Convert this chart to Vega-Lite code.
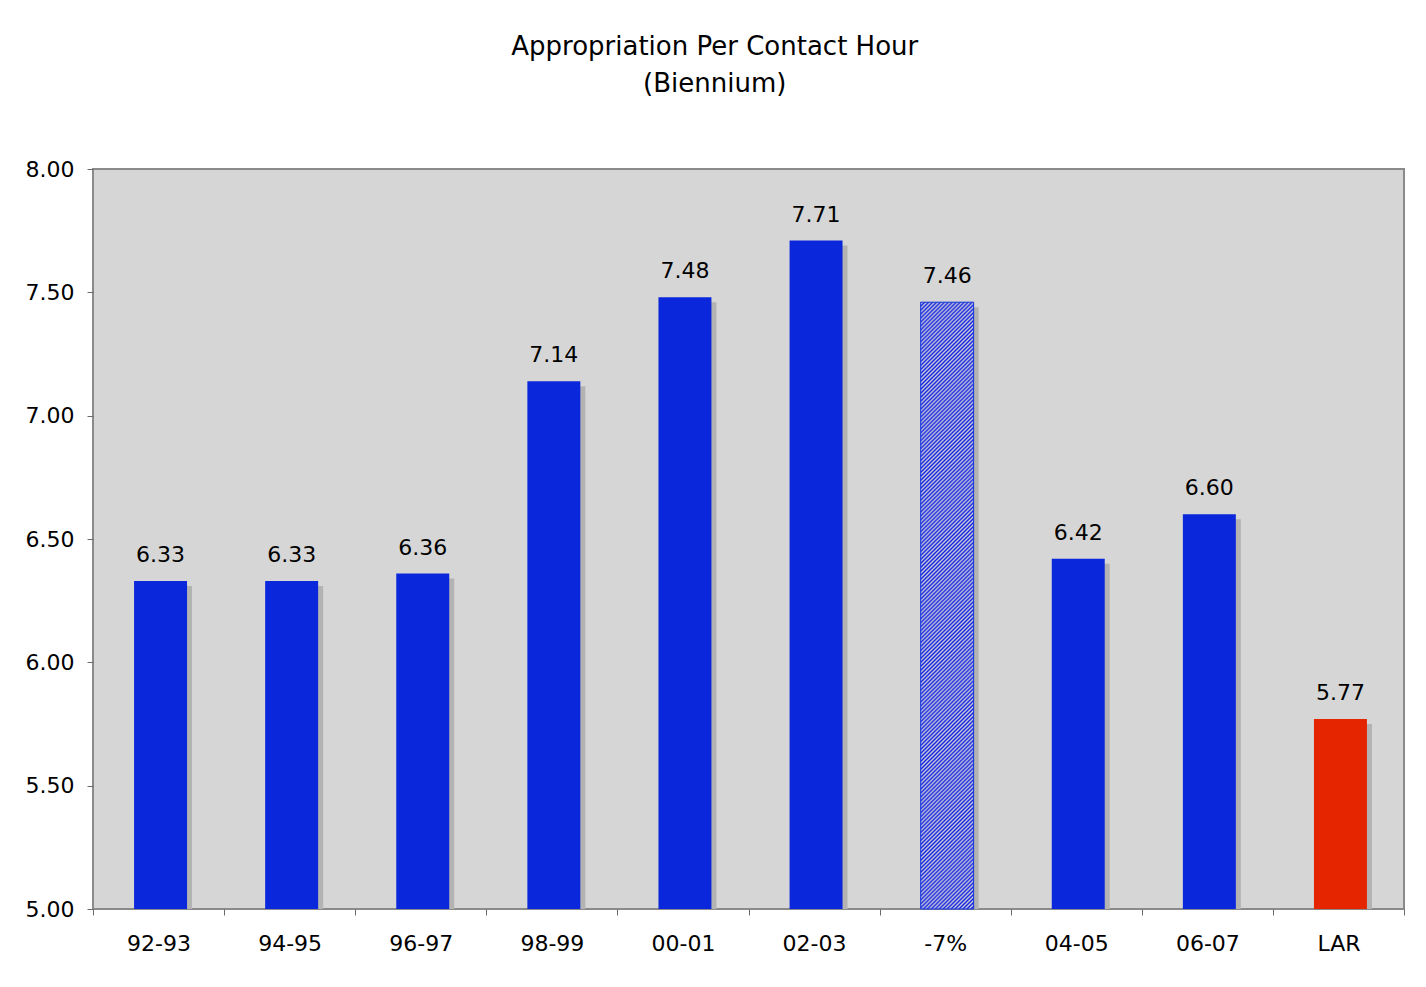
{
  "$schema": "https://vega.github.io/schema/vega-lite/v6.json",
  "width": 1311,
  "height": 740,
  "autosize": {"type": "none"},
  "padding": {"left": 93, "top": 169, "right": 22, "bottom": 78},
  "background": "white",
  "title": {
    "text": ["Appropriation Per Contact Hour", "(Biennium)"],
    "font": "DejaVu Sans",
    "fontSize": 26,
    "fontWeight": "normal",
    "lineHeight": 37,
    "color": "black",
    "anchor": "middle",
    "frame": "bounds",
    "offset": 61
  },
  "data": {
    "values": [
      {"period": "92-93", "value": 6.33, "kind": "actual"},
      {"period": "94-95", "value": 6.33, "kind": "actual"},
      {"period": "96-97", "value": 6.36, "kind": "actual"},
      {"period": "98-99", "value": 7.14, "kind": "actual"},
      {"period": "00-01", "value": 7.48, "kind": "actual"},
      {"period": "02-03", "value": 7.71, "kind": "actual"},
      {"period": "-7%", "value": 7.46, "kind": "hatch"},
      {"period": "04-05", "value": 6.42, "kind": "actual"},
      {"period": "06-07", "value": 6.60, "kind": "actual"},
      {"period": "LAR", "value": 5.77, "kind": "LAR"}
    ]
  },
  "encoding": {
    "x": {
      "field": "period",
      "type": "nominal",
      "sort": null,
      "scale": {"paddingInner": 0, "paddingOuter": 0},
      "axis": {
        "title": null,
        "labelAngle": 0,
        "tickBand": "extent",
        "tickSize": 6,
        "tickColor": "#6a6a6a",
        "domain": false,
        "grid": false,
        "labelFont": "DejaVu Sans",
        "labelFontSize": 22,
        "labelColor": "black",
        "labelPadding": 18
      }
    },
    "y": {
      "field": "value",
      "type": "quantitative",
      "scale": {"domain": [5, 8], "nice": false, "zero": false},
      "axis": {
        "title": null,
        "values": [5, 5.5, 6, 6.5, 7, 7.5, 8],
        "format": ".2f",
        "tickSize": 6,
        "tickColor": "#6a6a6a",
        "domain": false,
        "grid": false,
        "labelFont": "DejaVu Sans",
        "labelFontSize": 22,
        "labelColor": "black",
        "labelPadding": 13
      }
    }
  },
  "layer": [
    {
      "mark": {"type": "bar", "color": "#b3b3b3", "width": {"band": 0.404}, "xOffset": 7, "yOffset": 5, "clip": true},
      "encoding": {"y2": {"datum": 5}}
    },
    {
      "transform": [{"filter": "datum.kind != 'hatch'"}],
      "mark": {"type": "bar", "width": {"band": 0.404}, "xOffset": 2, "opacity": 1},
      "encoding": {
        "y2": {"datum": 5},
        "color": {"field": "kind", "type": "nominal", "scale": {"domain": ["actual", "LAR"], "range": ["#0a27db", "#e52400"]}, "legend": null}
      }
    },
    {
      "transform": [{"filter": "datum.kind == 'hatch'"}],
      "mark": {
        "type": "bar",
        "width": {"band": 0.404},
        "xOffset": 2,
        "stroke": "#13d",
        "strokeWidth": 1,
        "fill": {
          "gradient": "linear",
          "x1": 0, "y1": 0, "x2": 0.0942, "y2": 1.079,
          "stops": [
{"offset":0,"color":"#12d"},{"offset":0.003,"color":"#ccd"},{"offset":0.006,"color":"#12d"},{"offset":0.009,"color":"#ccd"},{"offset":0.012,"color":"#12d"},{"offset":0.015,"color":"#ccd"},{"offset":0.018,"color":"#12d"},{"offset":0.021,"color":"#ccd"},{"offset":0.024,"color":"#12d"},{"offset":0.027,"color":"#ccd"},
{"offset":0.03,"color":"#12d"},{"offset":0.033,"color":"#ccd"},{"offset":0.036,"color":"#12d"},{"offset":0.039,"color":"#ccd"},{"offset":0.042,"color":"#12d"},{"offset":0.045,"color":"#ccd"},{"offset":0.048,"color":"#12d"},{"offset":0.051,"color":"#ccd"},{"offset":0.054,"color":"#12d"},{"offset":0.057,"color":"#ccd"},
{"offset":0.06,"color":"#12d"},{"offset":0.063,"color":"#ccd"},{"offset":0.066,"color":"#12d"},{"offset":0.069,"color":"#ccd"},{"offset":0.072,"color":"#12d"},{"offset":0.075,"color":"#ccd"},{"offset":0.078,"color":"#12d"},{"offset":0.081,"color":"#ccd"},{"offset":0.084,"color":"#12d"},{"offset":0.087,"color":"#ccd"},
{"offset":0.09,"color":"#12d"},{"offset":0.093,"color":"#ccd"},{"offset":0.096,"color":"#12d"},{"offset":0.099,"color":"#ccd"},{"offset":0.102,"color":"#12d"},{"offset":0.105,"color":"#ccd"},{"offset":0.108,"color":"#12d"},{"offset":0.111,"color":"#ccd"},{"offset":0.114,"color":"#12d"},{"offset":0.117,"color":"#ccd"},
{"offset":0.12,"color":"#12d"},{"offset":0.123,"color":"#ccd"},{"offset":0.126,"color":"#12d"},{"offset":0.129,"color":"#ccd"},{"offset":0.132,"color":"#12d"},{"offset":0.135,"color":"#ccd"},{"offset":0.138,"color":"#12d"},{"offset":0.141,"color":"#ccd"},{"offset":0.144,"color":"#12d"},{"offset":0.147,"color":"#ccd"},
{"offset":0.15,"color":"#12d"},{"offset":0.153,"color":"#ccd"},{"offset":0.156,"color":"#12d"},{"offset":0.159,"color":"#ccd"},{"offset":0.162,"color":"#12d"},{"offset":0.165,"color":"#ccd"},{"offset":0.168,"color":"#12d"},{"offset":0.171,"color":"#ccd"},{"offset":0.174,"color":"#12d"},{"offset":0.177,"color":"#ccd"},
{"offset":0.18,"color":"#12d"},{"offset":0.183,"color":"#ccd"},{"offset":0.186,"color":"#12d"},{"offset":0.189,"color":"#ccd"},{"offset":0.192,"color":"#12d"},{"offset":0.195,"color":"#ccd"},{"offset":0.198,"color":"#12d"},{"offset":0.201,"color":"#ccd"},{"offset":0.204,"color":"#12d"},{"offset":0.207,"color":"#ccd"},
{"offset":0.21,"color":"#12d"},{"offset":0.213,"color":"#ccd"},{"offset":0.216,"color":"#12d"},{"offset":0.219,"color":"#ccd"},{"offset":0.222,"color":"#12d"},{"offset":0.225,"color":"#ccd"},{"offset":0.228,"color":"#12d"},{"offset":0.231,"color":"#ccd"},{"offset":0.234,"color":"#12d"},{"offset":0.237,"color":"#ccd"},
{"offset":0.24,"color":"#12d"},{"offset":0.243,"color":"#ccd"},{"offset":0.246,"color":"#12d"},{"offset":0.249,"color":"#ccd"},{"offset":0.252,"color":"#12d"},{"offset":0.255,"color":"#ccd"},{"offset":0.258,"color":"#12d"},{"offset":0.261,"color":"#ccd"},{"offset":0.264,"color":"#12d"},{"offset":0.267,"color":"#ccd"},
{"offset":0.27,"color":"#12d"},{"offset":0.273,"color":"#ccd"},{"offset":0.276,"color":"#12d"},{"offset":0.279,"color":"#ccd"},{"offset":0.282,"color":"#12d"},{"offset":0.285,"color":"#ccd"},{"offset":0.288,"color":"#12d"},{"offset":0.291,"color":"#ccd"},{"offset":0.294,"color":"#12d"},{"offset":0.297,"color":"#ccd"},
{"offset":0.3,"color":"#12d"},{"offset":0.303,"color":"#ccd"},{"offset":0.306,"color":"#12d"},{"offset":0.309,"color":"#ccd"},{"offset":0.312,"color":"#12d"},{"offset":0.315,"color":"#ccd"},{"offset":0.318,"color":"#12d"},{"offset":0.321,"color":"#ccd"},{"offset":0.324,"color":"#12d"},{"offset":0.327,"color":"#ccd"},
{"offset":0.33,"color":"#12d"},{"offset":0.333,"color":"#ccd"},{"offset":0.336,"color":"#12d"},{"offset":0.339,"color":"#ccd"},{"offset":0.342,"color":"#12d"},{"offset":0.345,"color":"#ccd"},{"offset":0.348,"color":"#12d"},{"offset":0.351,"color":"#ccd"},{"offset":0.354,"color":"#12d"},{"offset":0.357,"color":"#ccd"},
{"offset":0.36,"color":"#12d"},{"offset":0.363,"color":"#ccd"},{"offset":0.366,"color":"#12d"},{"offset":0.369,"color":"#ccd"},{"offset":0.372,"color":"#12d"},{"offset":0.375,"color":"#ccd"},{"offset":0.378,"color":"#12d"},{"offset":0.381,"color":"#ccd"},{"offset":0.384,"color":"#12d"},{"offset":0.387,"color":"#ccd"},
{"offset":0.39,"color":"#12d"},{"offset":0.393,"color":"#ccd"},{"offset":0.396,"color":"#12d"},{"offset":0.399,"color":"#ccd"},{"offset":0.402,"color":"#12d"},{"offset":0.405,"color":"#ccd"},{"offset":0.408,"color":"#12d"},{"offset":0.411,"color":"#ccd"},{"offset":0.414,"color":"#12d"},{"offset":0.417,"color":"#ccd"},
{"offset":0.42,"color":"#12d"},{"offset":0.423,"color":"#ccd"},{"offset":0.426,"color":"#12d"},{"offset":0.429,"color":"#ccd"},{"offset":0.432,"color":"#12d"},{"offset":0.435,"color":"#ccd"},{"offset":0.438,"color":"#12d"},{"offset":0.441,"color":"#ccd"},{"offset":0.444,"color":"#12d"},{"offset":0.447,"color":"#ccd"},
{"offset":0.45,"color":"#12d"},{"offset":0.453,"color":"#ccd"},{"offset":0.456,"color":"#12d"},{"offset":0.459,"color":"#ccd"},{"offset":0.462,"color":"#12d"},{"offset":0.465,"color":"#ccd"},{"offset":0.468,"color":"#12d"},{"offset":0.471,"color":"#ccd"},{"offset":0.474,"color":"#12d"},{"offset":0.477,"color":"#ccd"},
{"offset":0.48,"color":"#12d"},{"offset":0.483,"color":"#ccd"},{"offset":0.486,"color":"#12d"},{"offset":0.489,"color":"#ccd"},{"offset":0.492,"color":"#12d"},{"offset":0.495,"color":"#ccd"},{"offset":0.498,"color":"#12d"},{"offset":0.501,"color":"#ccd"},{"offset":0.504,"color":"#12d"},{"offset":0.507,"color":"#ccd"},
{"offset":0.51,"color":"#12d"},{"offset":0.513,"color":"#ccd"},{"offset":0.516,"color":"#12d"},{"offset":0.519,"color":"#ccd"},{"offset":0.522,"color":"#12d"},{"offset":0.525,"color":"#ccd"},{"offset":0.528,"color":"#12d"},{"offset":0.531,"color":"#ccd"},{"offset":0.534,"color":"#12d"},{"offset":0.537,"color":"#ccd"},
{"offset":0.54,"color":"#12d"},{"offset":0.543,"color":"#ccd"},{"offset":0.546,"color":"#12d"},{"offset":0.549,"color":"#ccd"},{"offset":0.552,"color":"#12d"},{"offset":0.555,"color":"#ccd"},{"offset":0.558,"color":"#12d"},{"offset":0.561,"color":"#ccd"},{"offset":0.564,"color":"#12d"},{"offset":0.567,"color":"#ccd"},
{"offset":0.57,"color":"#12d"},{"offset":0.573,"color":"#ccd"},{"offset":0.576,"color":"#12d"},{"offset":0.579,"color":"#ccd"},{"offset":0.582,"color":"#12d"},{"offset":0.585,"color":"#ccd"},{"offset":0.588,"color":"#12d"},{"offset":0.591,"color":"#ccd"},{"offset":0.594,"color":"#12d"},{"offset":0.597,"color":"#ccd"},
{"offset":0.6,"color":"#12d"},{"offset":0.603,"color":"#ccd"},{"offset":0.606,"color":"#12d"},{"offset":0.609,"color":"#ccd"},{"offset":0.612,"color":"#12d"},{"offset":0.615,"color":"#ccd"},{"offset":0.618,"color":"#12d"},{"offset":0.621,"color":"#ccd"},{"offset":0.624,"color":"#12d"},{"offset":0.627,"color":"#ccd"},
{"offset":0.63,"color":"#12d"},{"offset":0.633,"color":"#ccd"},{"offset":0.636,"color":"#12d"},{"offset":0.639,"color":"#ccd"},{"offset":0.642,"color":"#12d"},{"offset":0.645,"color":"#ccd"},{"offset":0.648,"color":"#12d"},{"offset":0.651,"color":"#ccd"},{"offset":0.654,"color":"#12d"},{"offset":0.657,"color":"#ccd"},
{"offset":0.66,"color":"#12d"},{"offset":0.663,"color":"#ccd"},{"offset":0.666,"color":"#12d"},{"offset":0.669,"color":"#ccd"},{"offset":0.672,"color":"#12d"},{"offset":0.675,"color":"#ccd"},{"offset":0.678,"color":"#12d"},{"offset":0.681,"color":"#ccd"},{"offset":0.684,"color":"#12d"},{"offset":0.687,"color":"#ccd"},
{"offset":0.69,"color":"#12d"},{"offset":0.693,"color":"#ccd"},{"offset":0.696,"color":"#12d"},{"offset":0.699,"color":"#ccd"},{"offset":0.702,"color":"#12d"},{"offset":0.705,"color":"#ccd"},{"offset":0.708,"color":"#12d"},{"offset":0.711,"color":"#ccd"},{"offset":0.714,"color":"#12d"},{"offset":0.717,"color":"#ccd"},
{"offset":0.72,"color":"#12d"},{"offset":0.723,"color":"#ccd"},{"offset":0.726,"color":"#12d"},{"offset":0.729,"color":"#ccd"},{"offset":0.732,"color":"#12d"},{"offset":0.735,"color":"#ccd"},{"offset":0.738,"color":"#12d"},{"offset":0.741,"color":"#ccd"},{"offset":0.744,"color":"#12d"},{"offset":0.747,"color":"#ccd"},
{"offset":0.75,"color":"#12d"},{"offset":0.753,"color":"#ccd"},{"offset":0.756,"color":"#12d"},{"offset":0.759,"color":"#ccd"},{"offset":0.762,"color":"#12d"},{"offset":0.765,"color":"#ccd"},{"offset":0.768,"color":"#12d"},{"offset":0.771,"color":"#ccd"},{"offset":0.774,"color":"#12d"},{"offset":0.777,"color":"#ccd"},
{"offset":0.78,"color":"#12d"},{"offset":0.783,"color":"#ccd"},{"offset":0.786,"color":"#12d"},{"offset":0.789,"color":"#ccd"},{"offset":0.792,"color":"#12d"},{"offset":0.795,"color":"#ccd"},{"offset":0.798,"color":"#12d"},{"offset":0.801,"color":"#ccd"},{"offset":0.804,"color":"#12d"},{"offset":0.807,"color":"#ccd"},
{"offset":0.81,"color":"#12d"},{"offset":0.813,"color":"#ccd"},{"offset":0.816,"color":"#12d"},{"offset":0.819,"color":"#ccd"},{"offset":0.822,"color":"#12d"},{"offset":0.825,"color":"#ccd"},{"offset":0.828,"color":"#12d"},{"offset":0.831,"color":"#ccd"},{"offset":0.834,"color":"#12d"},{"offset":0.837,"color":"#ccd"},
{"offset":0.84,"color":"#12d"},{"offset":0.843,"color":"#ccd"},{"offset":0.846,"color":"#12d"},{"offset":0.849,"color":"#ccd"},{"offset":0.852,"color":"#12d"},{"offset":0.855,"color":"#ccd"},{"offset":0.858,"color":"#12d"},{"offset":0.861,"color":"#ccd"},{"offset":0.864,"color":"#12d"},{"offset":0.867,"color":"#ccd"},
{"offset":0.87,"color":"#12d"},{"offset":0.873,"color":"#ccd"},{"offset":0.876,"color":"#12d"},{"offset":0.879,"color":"#ccd"},{"offset":0.882,"color":"#12d"},{"offset":0.885,"color":"#ccd"},{"offset":0.888,"color":"#12d"},{"offset":0.891,"color":"#ccd"},{"offset":0.894,"color":"#12d"},{"offset":0.897,"color":"#ccd"},
{"offset":0.9,"color":"#12d"},{"offset":0.903,"color":"#ccd"},{"offset":0.906,"color":"#12d"},{"offset":0.909,"color":"#ccd"},{"offset":0.912,"color":"#12d"},{"offset":0.915,"color":"#ccd"},{"offset":0.918,"color":"#12d"},{"offset":0.921,"color":"#ccd"},{"offset":0.924,"color":"#12d"},{"offset":0.927,"color":"#ccd"},
{"offset":0.93,"color":"#12d"},{"offset":0.933,"color":"#ccd"},{"offset":0.936,"color":"#12d"},{"offset":0.939,"color":"#ccd"},{"offset":0.942,"color":"#12d"},{"offset":0.945,"color":"#ccd"},{"offset":0.948,"color":"#12d"},{"offset":0.951,"color":"#ccd"},{"offset":0.954,"color":"#12d"},{"offset":0.957,"color":"#ccd"},
{"offset":0.96,"color":"#12d"},{"offset":0.963,"color":"#ccd"},{"offset":0.966,"color":"#12d"},{"offset":0.969,"color":"#ccd"},{"offset":0.972,"color":"#12d"},{"offset":0.975,"color":"#ccd"},{"offset":0.978,"color":"#12d"},{"offset":0.981,"color":"#ccd"},{"offset":0.984,"color":"#12d"},{"offset":0.987,"color":"#ccd"},
{"offset":0.99,"color":"#12d"},{"offset":0.993,"color":"#ccd"},{"offset":0.996,"color":"#12d"},{"offset":0.999,"color":"#ccd"}
          ]
        }
      },
      "encoding": {"y2": {"datum": 5}}
    },
    {
      "mark": {"type": "text", "dx": 2, "dy": -19, "baseline": "alphabetic", "align": "center", "font": "DejaVu Sans", "fontSize": 22, "color": "black"},
      "encoding": {"text": {"field": "value", "type": "quantitative", "format": ".2f"}}
    }
  ],
  "config": {
    "view": {"fill": "#d6d6d6", "stroke": "#8a8a8a", "strokeWidth": 2},
    "axis": {"labelFont": "DejaVu Sans"}
  }
}
